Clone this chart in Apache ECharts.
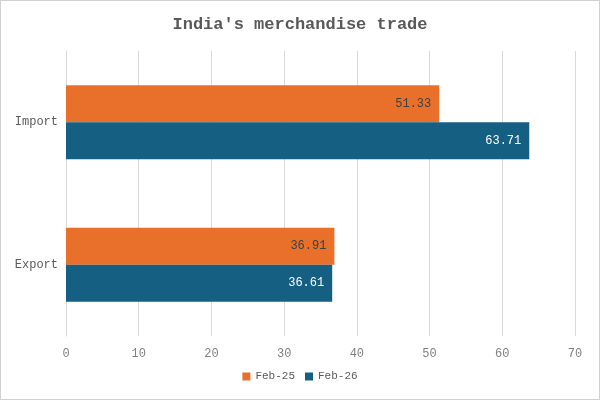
<!DOCTYPE html>
<html><head><meta charset="utf-8">
<script src="https://cdn.jsdelivr.net/npm/echarts@6/dist/echarts.min.js"></script>
<style>html,body{margin:0;padding:0;background:#fff}#c{width:598px;height:398px;border:1px solid #d0d0d0}</style>
</head><body><div id="c"></div>
<script>
const categories = ['Export', 'Import'];
const feb25 = [36.91, 51.33];
const feb26 = [36.61, 63.71];
const xTicks = [0, 10, 20, 30, 40, 50, 60, 70];
const font = 'Liberation Mono';
const chart = echarts.init(document.getElementById('c'));
chart.setOption({
  animation: false,
  textStyle: { fontFamily: font },
  title: { text: "India's merchandise trade", left: 'center', top: 10,
    textStyle: { fontFamily: font, fontSize: 17, fontWeight: 'bold', color: '#595959' } },
  legend: { data: ['Feb-25', 'Feb-26'], bottom: 12, itemWidth: 8, itemHeight: 8, itemGap: 10, icon: 'rect',
    textStyle: { fontFamily: font, fontSize: 11, color: '#595959' } },
  grid: { left: 65, right: 24, top: 50, bottom: 63, containLabel: false },
  xAxis: { type: 'value', min: xTicks[0], max: xTicks[xTicks.length - 1], interval: 10,
    axisLabel: { color: '#808080', fontSize: 12, fontFamily: font, margin: 12 },
    splitLine: { lineStyle: { color: '#d9d9d9' } }, axisLine: { show: false } },
  yAxis: { type: 'category', data: categories,
    axisTick: { show: false }, axisLine: { lineStyle: { color: '#d9d9d9' } },
    axisLabel: { color: '#595959', fontSize: 12, fontFamily: font, margin: 8 } },
  series: [
    { name: 'Feb-25', type: 'bar', data: feb25, barWidth: '26%', barGap: '0%',
      itemStyle: { color: '#E8702A' },
      label: { show: true, position: 'insideRight', color: '#404040', fontSize: 12, fontFamily: font, distance: 8 } },
    { name: 'Feb-26', type: 'bar', data: feb26, barWidth: '26%', barGap: '0%',
      itemStyle: { color: '#155F83' },
      label: { show: true, position: 'insideRight', color: '#fff', fontSize: 12, fontFamily: font, distance: 8 } }
  ]
});
</script></body></html>
